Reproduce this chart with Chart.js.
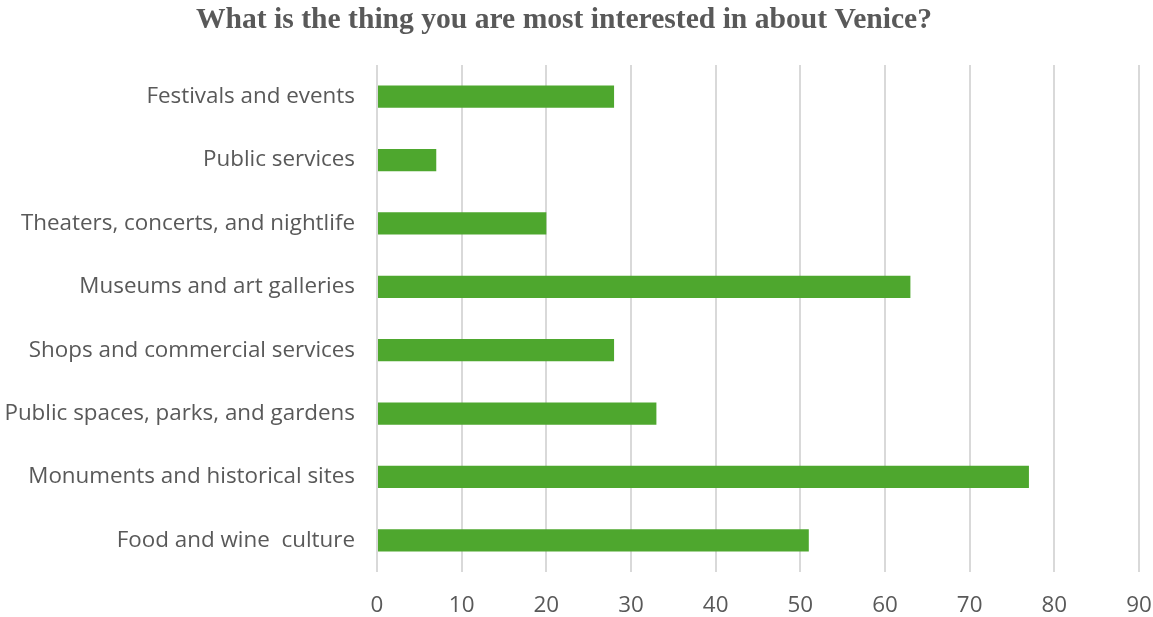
<!DOCTYPE html>
<html>
<head>
<meta charset="utf-8">
<script src="https://cdn.jsdelivr.net/npm/chart.js@4/dist/chart.umd.min.js"></script>
<style>
html,body{margin:0;padding:0;background:#fff;}
#wrap{width:1153px;height:617px;position:relative;}
</style>
</head>
<body>
<div id="wrap"><canvas id="c" width="1153" height="617"></canvas></div>
<script>
const titleText = "What is the thing you are most interested in about Venice?";
const categories = [
  "Festivals and events",
  "Public services",
  "Theaters, concerts, and nightlife",
  "Museums and art galleries",
  "Shops and commercial services",
  "Public spaces, parks, and gardens",
  "Monuments and historical sites",
  "Food and wine  culture"
];
const values = [28, 7, 20, 63, 28, 33, 77, 51];
const xMin = 0, xMax = 90, xStep = 10;

const titlePlugin = {
  id: 'customTitle',
  afterDraw(chart) {
    const ctx = chart.ctx;
    ctx.save();
    ctx.font = 'bold 29.6px "Liberation Serif", "Times New Roman", serif';
    ctx.fillStyle = '#595959';
    ctx.textAlign = 'center';
    ctx.textBaseline = 'middle';
    ctx.fillText(titleText, 564, 20);
    ctx.restore();
  }
};

new Chart(document.getElementById('c'), {
  type: 'bar',
  data: {
    labels: categories,
    datasets: [{
      data: values,
      backgroundColor: '#4EA72E',
      borderWidth: 0,
      barPercentage: 0.35,
      categoryPercentage: 1
    }]
  },
  options: {
    indexAxis: 'y',
    responsive: false,
    animation: false,
    layout: { padding: { left: 0, right: 0, top: 65, bottom: 0 } },
    plugins: {
      legend: { display: false },
      tooltip: { enabled: false },
      title: { display: false }
    },
    scales: {
      x: {
        min: xMin, max: xMax,
        ticks: { stepSize: xStep, color: '#595959', font: { family: '"Open Sans", sans-serif', size: 22.4 }, padding: 20 },
        grid: { color: '#d9d9d9', lineWidth: 2, drawTicks: false },
        border: { display: false },
        afterFit: (s) => { s.height = 45; s.paddingRight = 14; }
      },
      y: {
        ticks: { color: '#595959', font: { family: '"Open Sans", sans-serif', size: 22.4 }, padding: 22 },
        grid: { display: false, drawTicks: false },
        border: { display: false },
        afterFit: (s) => { s.width = 377; }
      }
    }
  },
  plugins: [titlePlugin]
});
</script>
</body>
</html>
